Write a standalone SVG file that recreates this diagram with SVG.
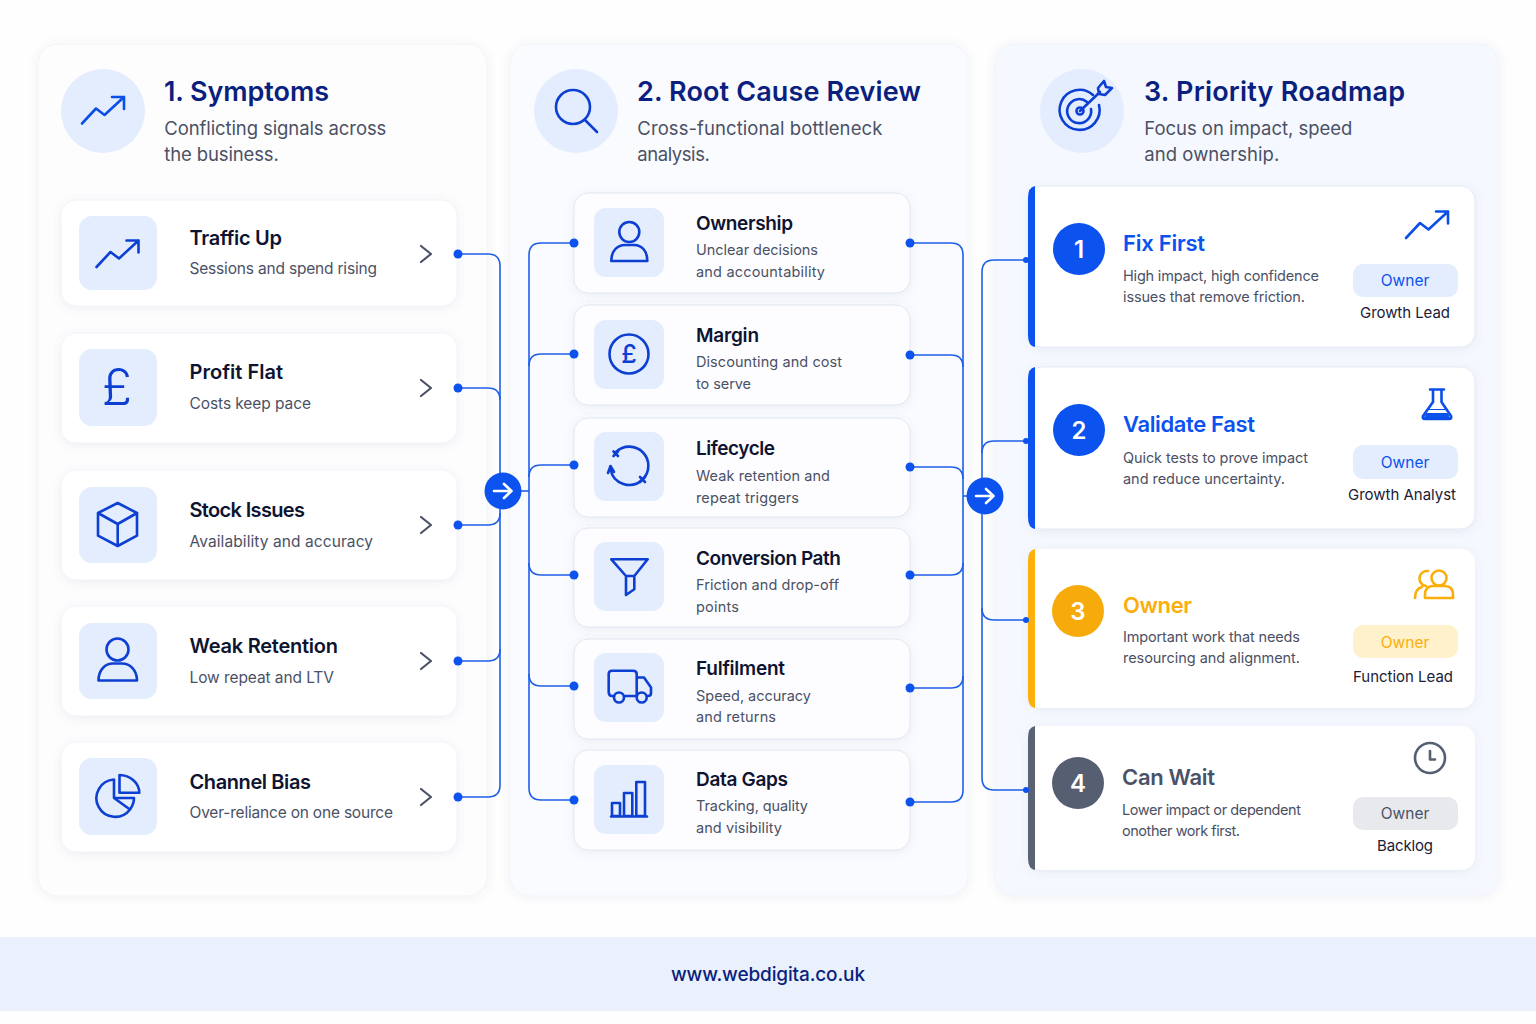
<svg xmlns="http://www.w3.org/2000/svg" width="1536" height="1024" viewBox="0 0 1536 1024">
<style>
text{font-family:"Inter","Noto Sans",sans-serif}
.h{font-size:27px;font-weight:600;fill:#0b1f7e}
.s{font-size:18.5px;fill:#4b5165}
.t1{font-size:20px;font-weight:600;fill:#0e1430}
.d1{font-size:15.5px;fill:#4b5165}
.t2{font-size:19px;font-weight:600;fill:#0e1430}
.d2{font-size:14.5px;fill:#4b5165}
.t3{font-size:22px;font-weight:600}
.d3{font-size:14.5px;fill:#4b5165}
.b{font-size:15.5px;text-anchor:middle}
.r{font-size:15px;fill:#1a2036}
.n{font-size:24px;font-weight:600;fill:#fff;text-anchor:middle}
.ic{fill:none;stroke:#0d3fd2;stroke-width:2.6;stroke-linecap:round;stroke-linejoin:round}
.ic2{fill:none;stroke:#0b4fe8;stroke-width:2.6;stroke-linecap:round;stroke-linejoin:round}
.tile{fill:#e3edfd}
.c1{fill:#fff;stroke:#f1f3f8;stroke-width:1}
.c2{fill:#fdfdff;stroke:#e2e6f2;stroke-width:1}
.w{fill:#fff;stroke:#e4e9f5;stroke-width:1}
.chev{fill:none;stroke:#4b5165;stroke-width:2.2;stroke-linecap:round;stroke-linejoin:round}
.ln{fill:none;stroke:#1f5fe8;stroke-width:1.6}
.dot{fill:#0b52ee}
.hub{fill:#0b52ee}
.ar{fill:none;stroke:#fff;stroke-width:2.6;stroke-linecap:round;stroke-linejoin:round}
</style>
<defs>
<filter id="sh" x="-10%" y="-10%" width="120%" height="125%"><feDropShadow dx="0" dy="2" stdDeviation="4" flood-color="#5a6a9a" flood-opacity="0.10"/></filter>
<filter id="sp" x="-5%" y="-5%" width="110%" height="110%"><feDropShadow dx="0" dy="1" stdDeviation="5" flood-color="#5a6a9a" flood-opacity="0.09"/></filter>
<g id="trend"><path d="M0 0L14 -15L22.500 -8.500L42 -26.500M30 -26.500H42V-14.500"/></g>
</defs>
<rect width="1536" height="1024" fill="#fefefe"/>
<g id="panel-1"><rect x="38" y="44" width="449" height="852" rx="20" fill="#fdfdfe" stroke="#f3f4f7" filter="url(#sp)"/></g>
<g id="panel-2"><rect x="510" y="44" width="458" height="852" rx="20" fill="#fafbfe" stroke="#f4f5fa" filter="url(#sp)"/></g>
<g id="panel-3"><rect x="995" y="44" width="504" height="852" rx="20" fill="#f5f8fe" stroke="#f2f4fa" filter="url(#sp)"/></g>
<g id="footer"><rect x="0" y="937" width="1536" height="74" fill="#eaf1fc"/><text x="768" y="981" text-anchor="middle" textLength="194" style="font-size:19px;font-weight:500;fill:#0b1f7e">www.webdigita.co.uk</text></g>

<g id="header-1"><circle cx="103" cy="111" r="42" fill="#e3edfd"/><use href="#trend" x="82" y="123.500" class="ic2"/>
<text class="h" x="164" y="100.500" textLength="165">1. Symptoms</text><text class="s" x="164.300" y="135" textLength="222">Conflicting signals across</text><text class="s" x="164.300" y="161" textLength="114.500">the business.</text></g>
<g id="header-2"><circle cx="576" cy="111" r="42" fill="#e3edfd"/><g class="ic"><circle cx="573" cy="107" r="17"/><path d="M585 120L597 132"/></g>
<text class="h" x="637" y="100.500" textLength="284">2. Root Cause Review</text><text class="s" x="637.300" y="135" textLength="245">Cross-functional bottleneck</text><text class="s" x="637.300" y="161" textLength="72.500">analysis.</text></g>
<g id="header-3"><circle cx="1082" cy="111" r="42" fill="#e3edfd"/><g class="ic"><path d="M1093 95A20 20 0 1 0 1099 105"/><path d="M1087 102A12 12 0 1 0 1091 109"/><circle cx="1080" cy="111" r="3.500"/><path d="M1080 111L1100 92"/><path d="M1098 88L1104 81L1106 87L1112 88L1105 95L1099 94Z"/></g>
<text class="h" x="1144" y="100.500" textLength="261">3. Priority Roadmap</text><text class="s" x="1144.300" y="135" textLength="208">Focus on impact, speed</text><text class="s" x="1144.300" y="161" textLength="135">and ownership.</text></g>

<g id="n-traffic"><rect class="c1" x="61" y="200" width="396" height="106" rx="15" filter="url(#sh)"/><rect class="tile" x="79" y="216" width="78" height="74" rx="13"/><use href="#trend" x="96.500" y="267" class="ic"/>
<text class="t1" x="189.500" y="245" textLength="92.500">Traffic Up</text><text class="d1" x="189.500" y="274" textLength="187.500">Sessions and spend rising</text><path class="chev" d="M421 246L431 254L421 262"/></g>
<g id="n-profit"><rect class="c1" x="61" y="333" width="396" height="110" rx="15" filter="url(#sh)"/><rect class="tile" x="79" y="349" width="78" height="77" rx="13"/><text x="117" y="405" text-anchor="middle" style="font-size:50px;font-weight:300;fill:#0d3fd2">£</text>
<text class="t1" x="189.500" y="379" textLength="93.500">Profit Flat</text><text class="d1" x="189.500" y="409" textLength="121.500">Costs keep pace</text><path class="chev" d="M421 380L431 388L421 396"/></g>
<g id="n-stock"><rect class="c1" x="61" y="470" width="396" height="110" rx="15" filter="url(#sh)"/><rect class="tile" x="79" y="487" width="78" height="76" rx="13"/><g class="ic"><path d="M117.700 503L137 513V535.700L117.700 546L98 535.700V513ZM98 513L117.700 524L137 513M117.700 524V546"/></g>
<text class="t1" x="189.500" y="517" textLength="115.500">Stock Issues</text><text class="d1" x="189.500" y="547" textLength="183.500">Availability and accuracy</text><path class="chev" d="M421 517L431 525L421 533"/></g>
<g id="n-retention"><rect class="c1" x="61" y="606" width="396" height="110" rx="15" filter="url(#sh)"/><rect class="tile" x="79" y="623" width="78" height="76" rx="13"/><g class="ic"><circle cx="117.500" cy="649.500" r="11"/><path d="M98.500 680.500C98.500 670 105 663.500 113 663.500H122C130 663.500 137 670 137 680.500Z"/></g>
<text class="t1" x="189.500" y="653" textLength="148.500">Weak Retention</text><text class="d1" x="189.500" y="683" textLength="144.500">Low repeat and LTV</text><path class="chev" d="M421 653L431 661L421 669"/></g>
<g id="n-channel"><rect class="c1" x="61" y="742" width="396" height="110" rx="15" filter="url(#sh)"/><rect class="tile" x="79" y="758" width="78" height="77" rx="13"/><g class="ic"><path d="M114 779.500A18.700 18.700 0 1 0 130 809.500L114 798ZM114 798H134Q134 804 130 809.500"/><path d="M119.500 775A20 18 0 0 1 139.300 792.700H119.500Z"/></g>
<text class="t1" x="189.500" y="789" textLength="121.500">Channel Bias</text><text class="d1" x="189.500" y="818" textLength="203.500">Over-reliance on one source</text><path class="chev" d="M421 789L431 797L421 805"/></g>

<g id="n-ownership"><rect class="c2" x="574" y="193" width="336" height="100" rx="14" filter="url(#sh)"/><rect class="tile" x="594" y="208" width="70" height="69" rx="12"/><g class="ic"><circle cx="629.300" cy="232" r="10"/><path d="M611.300 261C611.300 251 617 245 625 245H634C642 245 647.300 251 647.300 261Z"/></g>
<text class="t2" x="696" y="230" textLength="97">Ownership</text><text class="d2" x="696" y="255" textLength="122">Unclear decisions</text><text class="d2" x="696" y="277" textLength="129">and accountability</text></g>
<g id="n-margin"><rect class="c2" x="574" y="305" width="336" height="100" rx="14" filter="url(#sh)"/><rect class="tile" x="594" y="320" width="70" height="69" rx="12"/><g class="ic"><circle cx="629" cy="354" r="19.500"/></g><text x="629" y="363" text-anchor="middle" style="font-size:25px;font-weight:500;fill:#0d3fd2">£</text>
<text class="t2" x="696" y="342" textLength="63">Margin</text><text class="d2" x="696" y="367" textLength="146">Discounting and cost</text><text class="d2" x="696" y="389" textLength="55">to serve</text></g>
<g id="n-lifecycle"><rect class="c2" x="574" y="418" width="336" height="99" rx="14" filter="url(#sh)"/><rect class="tile" x="594" y="432" width="70" height="69" rx="12"/><g class="ic"><path d="M616 452A19 19 0 0 1 642.500 479.500A19 19 0 0 1 610.500 469"/><path d="M613.500 451.500L618 456M613.500 456L618 451.500M640 477L645 482M640 482L645 477M608 473L610.500 466L614 472"/></g>
<text class="t2" x="696" y="455" textLength="79">Lifecycle</text><text class="d2" x="696" y="481" textLength="134">Weak retention and</text><text class="d2" x="696" y="503" textLength="103">repeat triggers</text></g>
<g id="n-conversion"><rect class="c2" x="574" y="528" width="336" height="99" rx="14" filter="url(#sh)"/><rect class="tile" x="594" y="542" width="70" height="69" rx="12"/><g class="ic"><path d="M611.300 559.300H647.700L634.300 576V589.300L626 595V576ZM626 576H634.300"/></g>
<text class="t2" x="696" y="565" textLength="145">Conversion Path</text><text class="d2" x="696" y="590" textLength="143">Friction and drop-off</text><text class="d2" x="696" y="612" textLength="43">points</text></g>
<g id="n-fulfilment"><rect class="c2" x="574" y="639" width="336" height="100" rx="14" filter="url(#sh)"/><rect class="tile" x="594" y="653" width="70" height="69" rx="12"/><g class="ic"><path d="M614 696H612Q608.700 696 608.700 692V674Q608.700 670.700 612 670.700H633Q636.700 670.700 636.700 674V696H625M636.700 677.500H644L651 687.500V693Q651 696 648 696H647M636.700 696H636"/><circle cx="619" cy="697.500" r="5"/><circle cx="641.700" cy="697.500" r="5"/></g>
<text class="t2" x="696" y="675" textLength="89">Fulfilment</text><text class="d2" x="696" y="701" textLength="115">Speed, accuracy</text><text class="d2" x="696" y="722" textLength="80">and returns</text></g>
<g id="n-data"><rect class="c2" x="574" y="750" width="336" height="100" rx="14" filter="url(#sh)"/><rect class="tile" x="594" y="765" width="70" height="69" rx="12"/><g class="ic"><path d="M612 816V803H620V816ZM624 816V793H632.300V816ZM636.300 816V782H645V816ZM611 816.500H647"/></g>
<text class="t2" x="696" y="786" textLength="92">Data Gaps</text><text class="d2" x="696" y="811" textLength="112">Tracking, quality</text><text class="d2" x="696" y="833" textLength="86">and visibility</text></g>

<g id="n-fix"><rect class="w" x="1028" y="186" width="447" height="161" rx="14" filter="url(#sh)"/><path d="M1035 186Q1028 187 1028 198V335Q1028 346 1035 347Z" fill="#0b52ee"/>
<circle cx="1079" cy="249" r="26" fill="#0b52ee"/><text class="n" x="1079" y="258">1</text>
<text class="t3" x="1123" y="251" textLength="82" fill="#0b52ee">Fix First</text><text class="d3" x="1123" y="281" textLength="196">High impact, high confidence</text><text class="d3" x="1123" y="302" textLength="182">issues that remove friction.</text>
<use href="#trend" x="1406" y="238" class="ic2"/><rect x="1353" y="264" width="105" height="33" rx="10" fill="#e3edfd"/><text class="b" x="1405" y="286" fill="#0b52ee">Owner</text><text class="r" x="1360" y="318" textLength="90">Growth Lead</text></g>
<g id="n-validate"><rect class="w" x="1028" y="367" width="447" height="162" rx="14" filter="url(#sh)"/><path d="M1035 367Q1028 368 1028 379V517Q1028 528 1035 529Z" fill="#0b52ee"/>
<circle cx="1079" cy="430" r="26" fill="#0b52ee"/><text class="n" x="1079" y="439">2</text>
<text class="t3" x="1123" y="432" textLength="132" fill="#0b52ee">Validate Fast</text><text class="d3" x="1123" y="463" textLength="185">Quick tests to prove impact</text><text class="d3" x="1123" y="484" textLength="162">and reduce uncertainty.</text>
<g class="ic2"><path d="M1430 389.500H1444M1433 389.500V402L1423 416Q1422 419 1425 419H1449Q1452 419 1451 416L1441.500 402V389.500"/><path d="M1426.500 413.500H1447.500L1449.500 418H1424.500Z" fill="#0b52ee" stroke-width="1"/><path d="M1429 409.500H1445" stroke-width="1.200"/></g>
<rect x="1353" y="445" width="105" height="34" rx="10" fill="#e3edfd"/><text class="b" x="1405" y="468" fill="#0b52ee">Owner</text><text class="r" x="1348" y="500" textLength="108">Growth Analyst</text></g>
<g id="n-owner"><rect x="1028" y="549" width="447" height="159" rx="14" fill="#fff" filter="url(#sh)"/><path d="M1035 549Q1028 550 1028 561V696Q1028 707 1035 708Z" fill="#fbb00c"/>
<circle cx="1078" cy="611" r="26" fill="#f6ab0b"/><text class="n" x="1078" y="620">3</text>
<text class="t3" x="1123" y="613" textLength="69" fill="#fbae0a">Owner</text><text class="d3" x="1123" y="642" textLength="177">Important work that needs</text><text class="d3" x="1123" y="663" textLength="177">resourcing and alignment.</text>
<g fill="none" stroke="#fbae0a" stroke-width="2.600" stroke-linecap="round" stroke-linejoin="round"><circle cx="1439" cy="578" r="7.500"/><path d="M1425 598V595Q1425 586 1433 586H1445Q1453 586 1453 595V598Z"/><path d="M1428 571A7.500 7.500 0 0 0 1426 586M1415 598Q1415 589 1422 587"/></g>
<rect x="1353" y="625" width="105" height="33" rx="10" fill="#fef1cc"/><text class="b" x="1405" y="648" fill="#fbae0a">Owner</text><text class="r" x="1353" y="682" textLength="100">Function Lead</text></g>
<g id="n-wait"><rect x="1028" y="726" width="447" height="144" rx="14" fill="#fff" filter="url(#sh)"/><path d="M1035 726Q1028 727 1028 738V858Q1028 869 1035 870Z" fill="#5a6275"/>
<circle cx="1078" cy="783" r="26" fill="#565e72"/><text class="n" x="1078" y="792">4</text>
<text class="t3" x="1122" y="785" textLength="93" fill="#4a5268">Can Wait</text><text class="d3" x="1122" y="815" textLength="179">Lower impact or dependent</text><text class="d3" x="1122" y="836" textLength="118">onother work first.</text>
<g fill="none" stroke="#565e72" stroke-width="2.600" stroke-linecap="round" stroke-linejoin="round"><circle cx="1430" cy="758" r="15"/><path d="M1430 751V759.500H1435"/></g>
<rect x="1353" y="797" width="105" height="33" rx="10" fill="#e8e9ec"/><text class="b" x="1405" y="819" fill="#4a5268">Owner</text><text class="r" x="1377" y="851" textLength="56">Backlog</text></g>

<g id="connectors">
<path class="ln" d="M458 254H488Q500 254 500 266V785Q500 797 488 797H458"/>
<path class="ln" d="M458 388H488Q500 388 500 400"/>
<path class="ln" d="M458 525H488Q500 525 500 513"/>
<path class="ln" d="M458 661H488Q500 661 500 649"/>
<path class="ln" d="M503 491H529"/>
<path class="ln" d="M574 243H541Q529 243 529 255V788Q529 800 541 800H574"/>
<path class="ln" d="M574 354H541Q529 354 529 366"/>
<path class="ln" d="M574 465H541Q529 465 529 477"/>
<path class="ln" d="M574 575H541Q529 575 529 563"/>
<path class="ln" d="M574 686H541Q529 686 529 674"/>
<path class="ln" d="M910 243H951Q963 243 963 255V790Q963 802 951 802H910"/>
<path class="ln" d="M910 355H951Q963 355 963 367"/>
<path class="ln" d="M910 467H951Q963 467 963 479"/>
<path class="ln" d="M910 575H951Q963 575 963 563"/>
<path class="ln" d="M910 688H951Q963 688 963 676"/>
<path class="ln" d="M963 496H985"/>
<path class="ln" d="M1028 260H994Q982 260 982 272V778Q982 790 994 790H1028"/>
<path class="ln" d="M1028 441H994Q982 441 982 453"/>
<path class="ln" d="M1028 620H994Q982 620 982 608"/>
<g class="dot"><circle cx="458" cy="254" r="4.500"/><circle cx="458" cy="388" r="4.500"/><circle cx="458" cy="525" r="4.500"/><circle cx="458" cy="661" r="4.500"/><circle cx="458" cy="797" r="4.500"/>
<circle cx="574" cy="243" r="4.500"/><circle cx="574" cy="354" r="4.500"/><circle cx="574" cy="465" r="4.500"/><circle cx="574" cy="575" r="4.500"/><circle cx="574" cy="686" r="4.500"/><circle cx="574" cy="800" r="4.500"/>
<circle cx="910" cy="243" r="4.500"/><circle cx="910" cy="355" r="4.500"/><circle cx="910" cy="467" r="4.500"/><circle cx="910" cy="575" r="4.500"/><circle cx="910" cy="688" r="4.500"/><circle cx="910" cy="802" r="4.500"/>
<circle cx="1026" cy="260" r="3"/><circle cx="1026" cy="441" r="3"/><circle cx="1026" cy="620" r="3"/><circle cx="1026" cy="790" r="3"/></g>
</g>

<g id="hub-1"><circle cx="503" cy="491" r="18.500" class="hub"/><path class="ar" d="M494 491H511.500M504 484L511.500 491L504 498"/></g>
<g id="hub-2"><circle cx="985" cy="496" r="18.500" class="hub"/><path class="ar" d="M976 496H993.500M986 489L993.500 496L986 503"/></g>
</svg>
